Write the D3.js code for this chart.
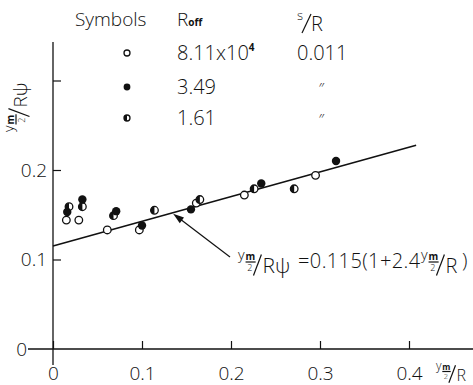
<!DOCTYPE html>
<html>
<head>
<meta charset="utf-8">
<script src="https://cdn.jsdelivr.net/npm/d3@7"></script>
<style>
  body { margin: 0; background: #fff; }
  svg { display: block; }
  text { font-family: 'Open Sans', 'Liberation Sans', sans-serif; font-weight: 300; fill: #111; }
</style>
</head>
<body>
<div id="chart"></div>
<script>
// data: [ym/2 / R, ym/2 / (R psi)]
const openPts = [[0.015, 0.144], [0.029, 0.144], [0.061, 0.133], [0.097, 0.133], [0.161, 0.163], [0.215, 0.172], [0.295, 0.194]]
const filledPts = [[0.016, 0.153], [0.033, 0.167], [0.071, 0.154], [0.100, 0.138], [0.155, 0.156], [0.234, 0.185], [0.318, 0.210]]
const halfPts = [[0.018, 0.159], [0.033, 0.159], [0.068, 0.149], [0.114, 0.155], [0.165, 0.167], [0.226, 0.179], [0.271, 0.179]]
const xTicks = [0, 0.1, 0.2, 0.3, 0.4]
const yTicks = [0.1, 0.2, 0.3]
const fitA = 0.115
const fitB = 2.4
const fitRange = [0, 0.408]
const legendRows = [
  { sym: 'open', roff: '8.11x10', sup: '4', sr: '0.011' },
  { sym: 'filled', roff: '3.49', sup: '', sr: '\u2033' },
  { sym: 'half', roff: '1.61', sup: '', sr: '\u2033' }
]

const width = 473
const height = 385
const svg = d3.select('#chart').append('svg')
  .attr('width', width)
  .attr('height', height)

const x = d3.scaleLinear().domain([0, 0.4]).range([53, 409])
const y = d3.scaleLinear().domain([0, 0.3]).range([349, 80.5])

// axes lines
svg.append('line').attr('x1', 28).attr('x2', 473).attr('y1', y(0)).attr('y2', y(0))
  .attr('stroke', '#111').attr('stroke-width', 1.3)
svg.append('line').attr('x1', x(0)).attr('x2', x(0)).attr('y1', 42).attr('y2', 365)
  .attr('stroke', '#111').attr('stroke-width', 1.3)

const xAxis = svg.append('g')
  .attr('transform', `translate(0,${y(0)})`)
  .call(d3.axisBottom(x).tickValues(xTicks).tickSize(-8).tickPadding(18)
    .tickFormat(d => d === 0 ? '0' : d.toFixed(1)))
xAxis.select('.domain').remove()
xAxis.selectAll('line').attr('stroke', '#111').attr('stroke-width', 1.2)
xAxis.selectAll('text').attr('font-size', 19).attr('font-family', null)

const yAxis = svg.append('g')
  .attr('transform', `translate(${x(0)},0)`)
  .call(d3.axisLeft(y).tickValues(yTicks).tickSize(-8).tickPadding(6)
    .tickFormat(d => d === 0.3 ? '' : d.toFixed(1)))
yAxis.select('.domain').remove()
yAxis.selectAll('line').attr('stroke', '#111').attr('stroke-width', 1.2)
yAxis.selectAll('text').attr('font-size', 19).attr('font-family', null)

svg.append('text').attr('x', 27).attr('y', y(0)).attr('dy', '0.35em')
  .attr('text-anchor', 'end').attr('font-size', 19).text('0')

// fit line
svg.append('line')
  .attr('x1', x(fitRange[0])).attr('y1', y(fitA * (1 + fitB * fitRange[0])))
  .attr('x2', x(fitRange[1])).attr('y2', y(fitA * (1 + fitB * fitRange[1])))
  .attr('stroke', '#111').attr('stroke-width', 1.6)

// symbols
function drawSym (g, type, cx, cy, r) {
  if (type === 'filled') {
    g.append('circle').attr('cx', cx).attr('cy', cy).attr('r', r + 0.4).attr('fill', '#111')
    return
  }
  g.append('circle').attr('cx', cx).attr('cy', cy).attr('r', r)
    .attr('fill', '#fff').attr('stroke', '#111').attr('stroke-width', 1.3)
  if (type === 'half') {
    g.append('path')
      .attr('d', `M${cx},${cy - r} A${r},${r} 0 0 0 ${cx},${cy + r} Z`)
      .attr('fill', '#111')
  }
}

const pts = svg.append('g')
openPts.forEach(d => drawSym(pts, 'open', x(d[0]), y(d[1]), 3.8))
halfPts.forEach(d => drawSym(pts, 'half', x(d[0]), y(d[1]), 3.8))
filledPts.forEach(d => drawSym(pts, 'filled', x(d[0]), y(d[1]), 3.8))

// ratio label: small ym over 2, drawn slash, tail
function ratio (parent, tx, ty, tail, s, ts, rot) {
  const g = parent.append('g').attr('transform', `translate(${tx},${ty})` + (rot ? ` rotate(${rot})` : ''))
  g.append('line').attr('x1', 0.42 * s).attr('x2', 0.98 * s)
    .attr('y1', -0.5 * s).attr('y2', -0.5 * s).attr('stroke', '#111').attr('stroke-width', 1.2)
  g.append('line').attr('x1', 1.3 * s).attr('y1', -0.92 * s).attr('x2', 0.86 * s).attr('y2', 0.25 * s)
    .attr('stroke', '#111').attr('stroke-width', 1.2)
  const num = g.append('text').attr('x', 0).attr('y', -0.62 * s).attr('font-size', 0.8 * s)
  num.append('tspan').text('y')
  num.append('tspan').attr('x', 0.42 * s).attr('font-size', 0.55 * s).attr('font-weight', 700).text('m')
  g.append('text').attr('x', 0.52 * s).attr('y', 0.02 * s).attr('font-size', 0.5 * s)
    .attr('font-weight', 700).text('2')
  g.append('text').attr('x', 1.36 * s).attr('y', 0.1 * s).attr('font-size', ts).text(tail)
  return g
}

// y axis title (rotated)
ratio(svg, 25, 132, 'R\u03C8', 18, 19, -90)
// x axis title
ratio(svg, 436, 379, 'R', 15, 16)

// annotation with arrow
const ax = 0.135
const tipX = x(ax)
const tipY = y(fitA * (1 + fitB * ax)) + 1
svg.append('line').attr('x1', 230).attr('y1', 257).attr('x2', tipX + 4).attr('y2', tipY + 3)
  .attr('stroke', '#111').attr('stroke-width', 1.2)
const ang = Math.atan2(257 - tipY, 230 - tipX)
const hl = 11
const hw = 3.5
svg.append('path')
  .attr('d', `M${tipX},${tipY} L${tipX + hl * Math.cos(ang) - hw * Math.sin(ang)},${tipY + hl * Math.sin(ang) + hw * Math.cos(ang)} L${tipX + hl * Math.cos(ang) + hw * Math.sin(ang)},${tipY + hl * Math.sin(ang) - hw * Math.cos(ang)} Z`)
  .attr('fill', '#111')

ratio(svg, 238, 271, 'R\u03C8', 18, 21)
svg.append('text').attr('x', 298).attr('y', 268).attr('font-size', 20)
  .attr('letter-spacing', 0.4)
  .text(`=${fitA}(1+${fitB}`)
ratio(svg, 421, 271, 'R', 18, 20)
svg.append('text').attr('x', 462).attr('y', 268).attr('font-size', 20).text(')')

// legend
const leg = svg.append('g')
leg.append('text').attr('x', 75).attr('y', 26).attr('font-size', 19).text('Symbols')
const roffT = leg.append('text').attr('x', 177).attr('y', 26).attr('font-size', 19)
roffT.append('tspan').text('R')
roffT.append('tspan').attr('font-size', 10).attr('font-weight', 700).text('off')
leg.append('text').attr('x', 297).attr('y', 20).attr('font-size', 13).text('s')
leg.append('line').attr('x1', 311).attr('y1', 14).attr('x2', 302).attr('y2', 33)
  .attr('stroke', '#111').attr('stroke-width', 1.2)
leg.append('text').attr('x', 311).attr('y', 31).attr('font-size', 20).text('R')

const rowY = [53, 87, 118]
legendRows.forEach((r, i) => {
  drawSym(leg, r.sym, 127, rowY[i], 3)
  const t = leg.append('text').attr('x', 177).attr('y', rowY[i] + 7).attr('font-size', 20)
  t.append('tspan').text(r.roff)
  if (r.sup) t.append('tspan').attr('dy', -9).attr('font-size', 10).attr('font-weight', 700).text(r.sup)
  if (r.sr === '0.011') {
    leg.append('text').attr('x', 297).attr('y', rowY[i] + 7).attr('font-size', 20).text(r.sr)
  } else {
    leg.append('text').attr('x', 318).attr('y', rowY[i] + 7).attr('font-size', 15)
      .attr('font-style', 'italic').text(r.sr)
  }
})
</script>
</body>
</html>
